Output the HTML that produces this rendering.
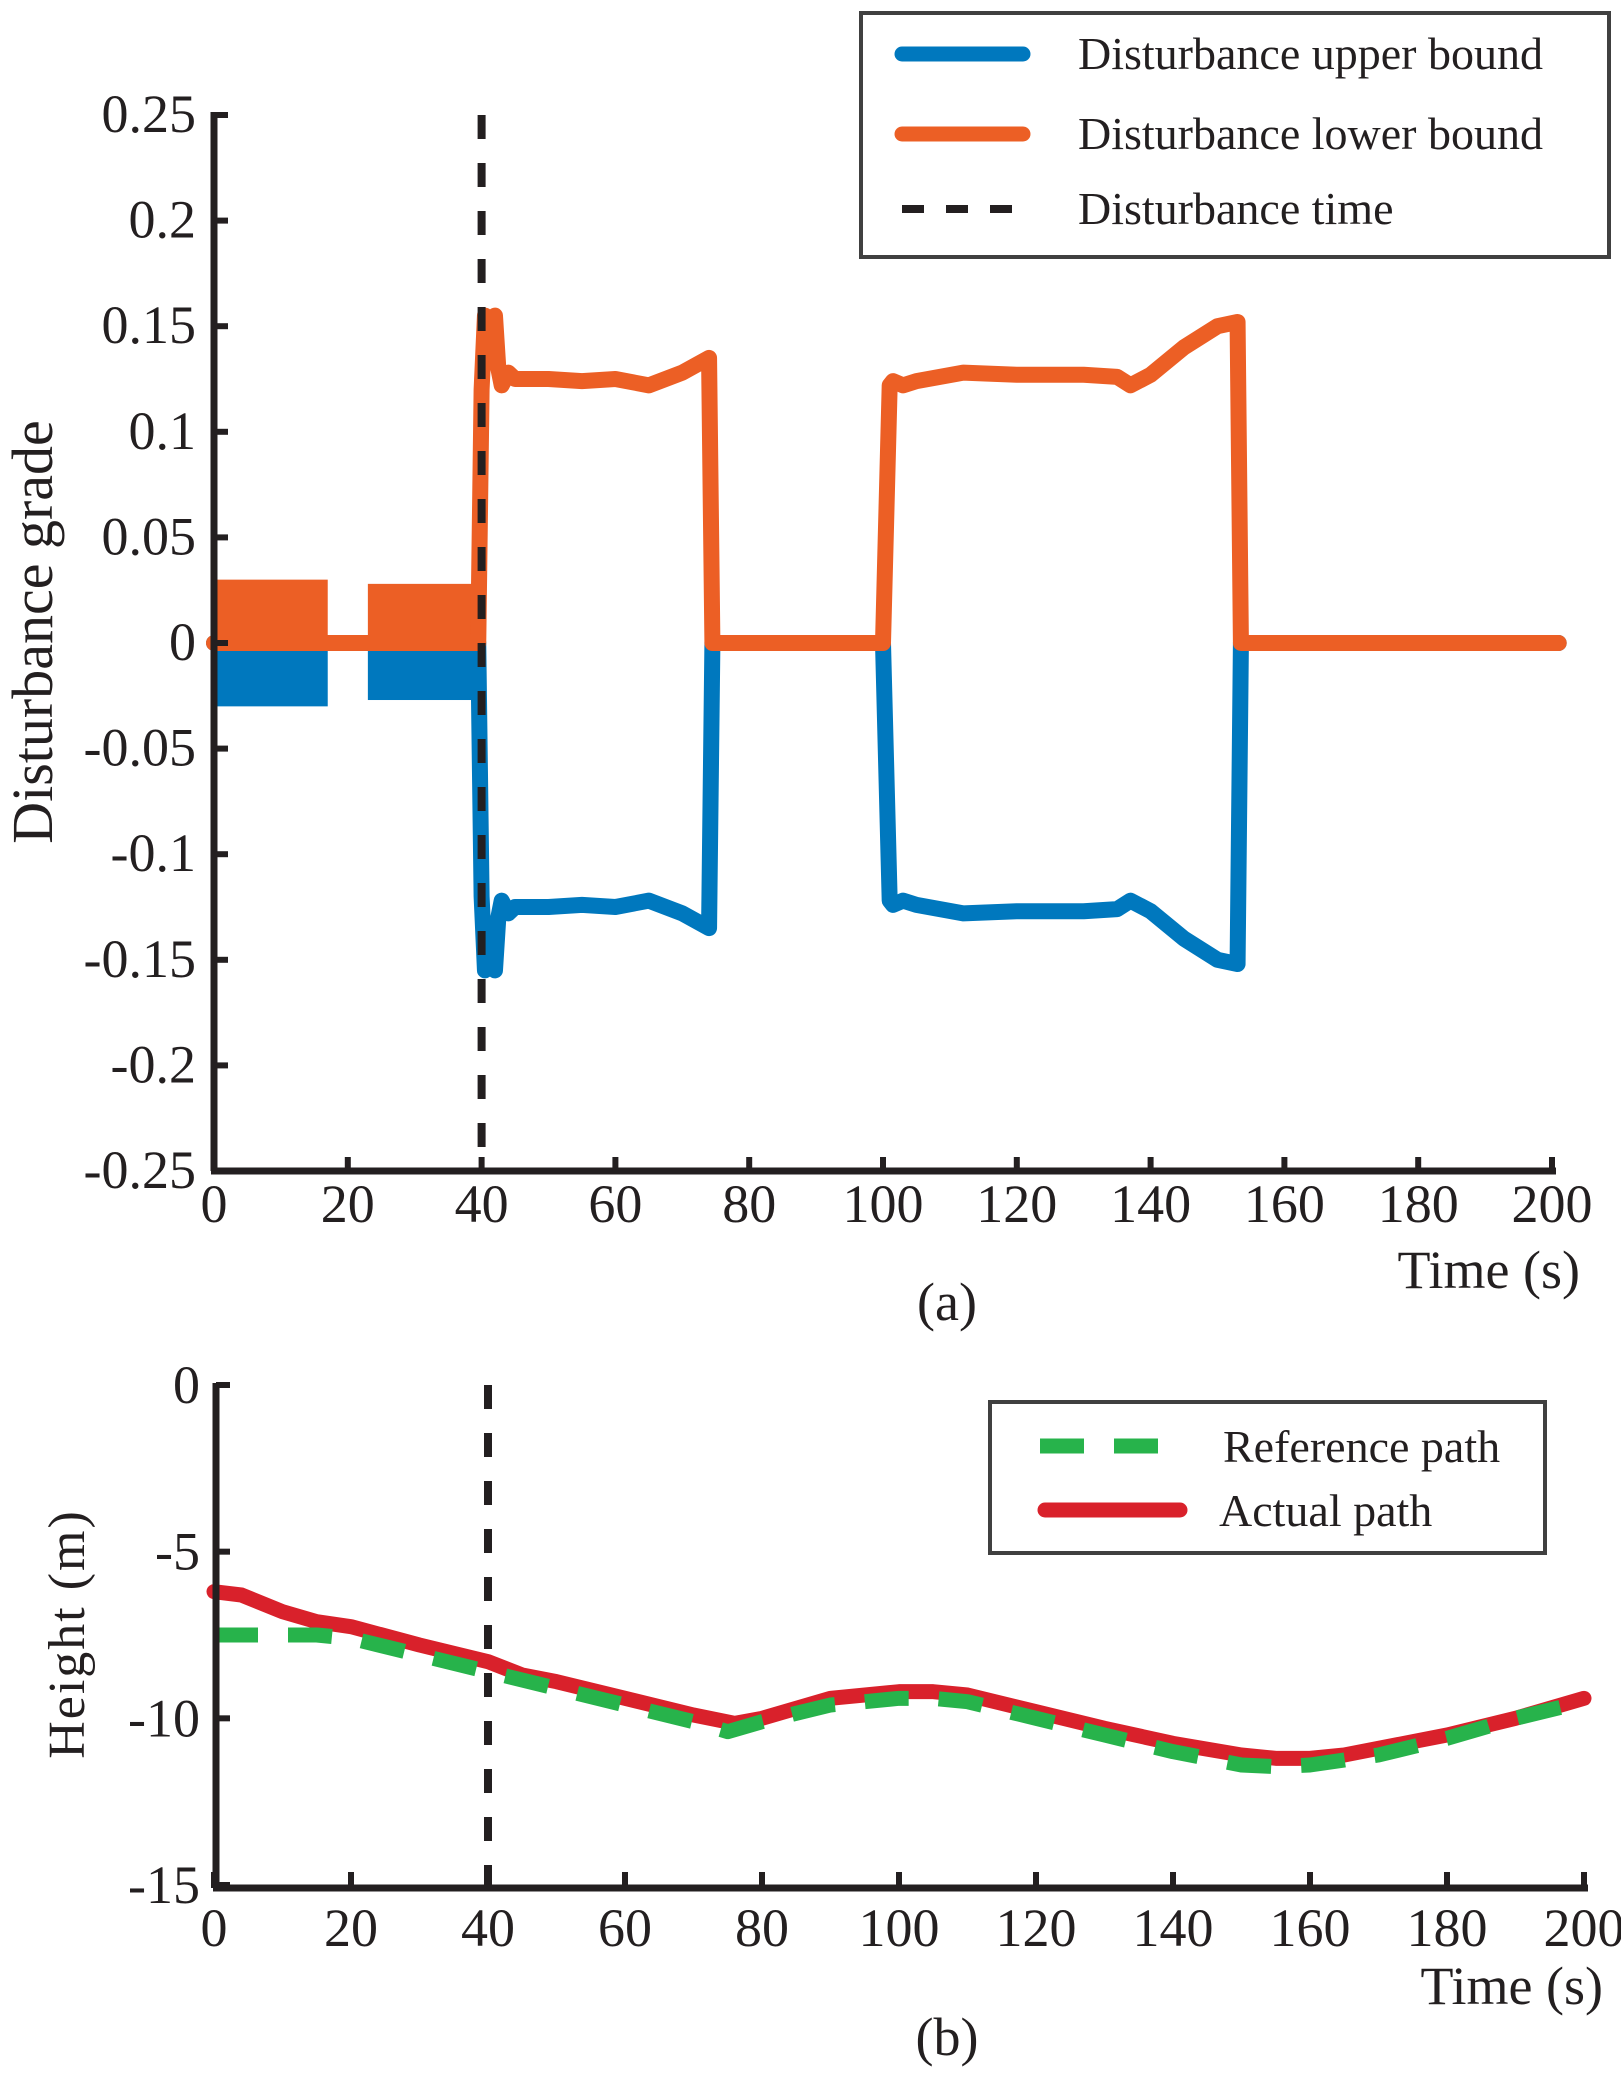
<!DOCTYPE html>
<html><head><meta charset="utf-8"><style>
html,body{margin:0;padding:0;background:#fff;}
svg{display:block;font-family:"Liberation Serif",serif;}
</style></head><body>
<svg id="chart" width="1621" height="2073" viewBox="0 0 1621 2073" xmlns="http://www.w3.org/2000/svg">
<g id="pa"></g>
<g id="pb"></g>
</svg>
<script>
// ---- Panel (a) data ----
const aTime = [0,0.5,17,17.5,23,23.5,39.5,40,40.5,41,41.5,42,42.5,43,44,45,50,55,60,65,70,74,74.5,100,101,101.5,103,105,112,120,130,135,137,140,145,150,153,153.5,201];
const aLower = [0,0,0,0,0,0,0,0.12,0.155,0.152,0.14,0.155,0.13,0.122,0.128,0.125,0.125,0.124,0.125,0.122,0.128,0.135,0,0,0.122,0.124,0.122,0.124,0.128,0.127,0.127,0.126,0.122,0.127,0.140,0.150,0.152,0,0];
const aUpper = [0,0,0,0,0,0,0,-0.12,-0.155,-0.15,-0.14,-0.155,-0.13,-0.122,-0.128,-0.125,-0.125,-0.124,-0.125,-0.122,-0.128,-0.135,0,0,-0.122,-0.124,-0.122,-0.124,-0.128,-0.127,-0.127,-0.126,-0.122,-0.127,-0.140,-0.150,-0.152,0,0];
const bandStart = [0.5,23];
const bandEnd = [17,39.8];
const bandTop = [0.030,0.028];
const bandBottom = [-0.030,-0.027];
const aYTicks = [0.25,0.2,0.15,0.1,0.05,0,-0.05,-0.1,-0.15,-0.2,-0.25];
const aYLabels = ["0.25","0.2","0.15","0.1","0.05","0","-0.05","-0.1","-0.15","-0.2","-0.25"];
const xTicks = [0,20,40,60,80,100,120,140,160,180,200];
const disturbT = 40;
// ---- Panel (b) data ----
const bRefT = [0,15,20,30,40,50,60,70,75,80,90,100,105,110,120,130,140,150,155,160,170,180,190,200];
const bRefV = [-7.5,-7.5,-7.6,-8.1,-8.6,-9.1,-9.6,-10.1,-10.4,-10.1,-9.6,-9.4,-9.4,-9.5,-10.0,-10.5,-11.0,-11.4,-11.45,-11.4,-11.1,-10.6,-10.0,-9.5];
const bActT = [0,4,10,15,20,30,40,45,50,60,70,76,80,90,100,105,110,120,130,140,150,155,160,165,180,190,200];
const bActV = [-6.2,-6.3,-6.8,-7.1,-7.25,-7.8,-8.3,-8.7,-8.9,-9.4,-9.9,-10.15,-10.0,-9.4,-9.2,-9.2,-9.3,-9.8,-10.3,-10.75,-11.1,-11.2,-11.2,-11.1,-10.5,-10.0,-9.4];
const bYTicks = [0,-5,-10,-15];
const bYLabels = ["0","-5","-10","-15"];

const NS="http://www.w3.org/2000/svg";
function mk(parent,tag,attrs,text){const e=document.createElementNS(NS,tag);for(const k in attrs)e.setAttribute(k,attrs[k]);if(text!==undefined)e.textContent=text;parent.appendChild(e);return e;}

const ax=t=>214+(t/200)*(1552-214);
const ay=v=>115+(0.25-v)/0.5*(1171-115);
const pa=document.getElementById('pa');
for(let i=0;i<bandStart.length;i++){
  const r=mk(pa,'rect',{x:ax(bandStart[i]),y:ay(0),width:ax(bandEnd[i])-ax(bandStart[i]),height:ay(bandBottom[i])-ay(0),fill:'#0078be'});
  
  
  const r2=mk(pa,'rect',{x:ax(bandStart[i]),y:ay(bandTop[i]),width:ax(bandEnd[i])-ax(bandStart[i]),height:ay(0)-ay(bandTop[i]),fill:'#ec5f25'});
  
  
}
let dU=aTime.map((t,i)=>(i?'L':'M')+ax(t)+','+ay(aUpper[i])).join(' ');
const lu=mk(pa,'path',{d:dU,fill:'none',stroke:'#0078be','stroke-width':16,'stroke-linejoin':'round','stroke-linecap':'round'});


let dL=aTime.map((t,i)=>(i?'L':'M')+ax(t)+','+ay(aLower[i])).join(' ');
const ll=mk(pa,'path',{d:dL,fill:'none',stroke:'#ec5f25','stroke-width':16,'stroke-linejoin':'round','stroke-linecap':'round'});


const dv=mk(pa,'line',{x1:ax(disturbT),x2:ax(disturbT),y1:ay(0.25),y2:ay(-0.25),stroke:'#231f20','stroke-width':8,'stroke-dasharray':'24 24'});


mk(pa,'line',{x1:214,y1:112,x2:214,y2:1171,stroke:'#231f20','stroke-width':7});
mk(pa,'line',{x1:211,y1:1171,x2:1556,y2:1171,stroke:'#231f20','stroke-width':7});
aYTicks.forEach((v,i)=>{
  mk(pa,'line',{x1:214,x2:228,y1:ay(v),y2:ay(v),stroke:'#231f20','stroke-width':6});
  const t=mk(pa,'text',{x:196,y:ay(v)+17,'text-anchor':'end','font-size':54,fill:'#231f20'},aYLabels[i]);
  
  
});
xTicks.forEach(v=>{
  mk(pa,'line',{x1:ax(v),x2:ax(v),y1:1171,y2:1157,stroke:'#231f20','stroke-width':6});
  const t=mk(pa,'text',{x:ax(v),y:1222,'text-anchor':'middle','font-size':54,fill:'#231f20'},String(v));
  
  
});

const bx=t=>214+(t/200)*(1584-214);
const by=v=>1385+(0-v)/15*(1885-1385);
const pb=document.getElementById('pb');
const dvb=mk(pb,'line',{x1:bx(disturbT),x2:bx(disturbT),y1:by(0),y2:by(-15),stroke:'#231f20','stroke-width':8,'stroke-dasharray':'24 24'});


const act=mk(pb,'path',{d:bActT.map((t,i)=>(i?'L':'M')+bx(t)+','+by(bActV[i])).join(' '),fill:'none',stroke:'#d9212b','stroke-width':15,'stroke-linejoin':'round','stroke-linecap':'round'});


const ref=mk(pb,'path',{d:bRefT.map((t,i)=>(i?'L':'M')+bx(t)+','+by(bRefV[i])).join(' '),fill:'none',stroke:'#27b34b','stroke-width':15,'stroke-dasharray':'44 30','stroke-linecap':'butt','stroke-linejoin':'round'});


mk(pb,'line',{x1:216,y1:1383,x2:216,y2:1888,stroke:'#231f20','stroke-width':7});
mk(pb,'line',{x1:213,y1:1888,x2:1588,y2:1888,stroke:'#231f20','stroke-width':7});
bYTicks.forEach((v,i)=>{
  mk(pb,'line',{x1:216,x2:230,y1:by(v),y2:by(v),stroke:'#231f20','stroke-width':6});
  const t=mk(pb,'text',{x:200,y:by(v)+18,'text-anchor':'end','font-size':54,fill:'#231f20'},bYLabels[i]);
  
  
});
xTicks.forEach(v=>{
  mk(pb,'line',{x1:bx(v),x2:bx(v),y1:1888,y2:1872,stroke:'#231f20','stroke-width':6});
  const t=mk(pb,'text',{x:bx(v),y:1946,'text-anchor':'middle','font-size':54,fill:'#231f20'},String(v));
  
  
});
</script>
<svg style="position:absolute;left:0;top:0" width="1621" height="2073" xmlns="http://www.w3.org/2000/svg">
<g font-family="Liberation Serif, serif" fill="#231f20">
<text transform="translate(52,632) rotate(-90)" text-anchor="middle" font-size="58">Disturbance grade</text>
<text x="1580" y="1288" text-anchor="end" font-size="54">Time (s)</text>
<text x="947" y="1320" text-anchor="middle" font-size="54">(a)</text>
<text transform="translate(84,1634) rotate(-90)" text-anchor="middle" font-size="52" letter-spacing="2">Height (m)</text>
<text x="1603" y="2004" text-anchor="end" font-size="54">Time (s)</text>
<text x="947" y="2055" text-anchor="middle" font-size="54">(b)</text>
</g>
<g>
<rect x="861" y="13" width="748" height="244" fill="#fff" stroke="#404040" stroke-width="4"/>
<line x1="902" y1="54" x2="1023" y2="54" stroke="#0078be" stroke-width="15" stroke-linecap="round"/>
<text x="1078" y="69" font-size="46" font-family="Liberation Serif, serif" fill="#231f20">Disturbance upper bound</text>
<line x1="902" y1="134" x2="1023" y2="134" stroke="#ec5f25" stroke-width="15" stroke-linecap="round"/>
<text x="1078" y="149" font-size="46" font-family="Liberation Serif, serif" fill="#231f20">Disturbance lower bound</text>
<line x1="902" y1="209" x2="1030" y2="209" stroke="#231f20" stroke-width="8" stroke-dasharray="22 22"/>
<text x="1078" y="224" font-size="46" font-family="Liberation Serif, serif" fill="#231f20">Disturbance time</text>
</g>
<g>
<rect x="990" y="1402" width="555" height="151" fill="#fff" stroke="#404040" stroke-width="4"/>
<line x1="1040" y1="1446" x2="1185" y2="1446" stroke="#27b34b" stroke-width="15" stroke-dasharray="44 30"/>
<text x="1223" y="1462" font-size="46" font-family="Liberation Serif, serif" fill="#231f20">Reference path</text>
<line x1="1045" y1="1510" x2="1180" y2="1510" stroke="#d9212b" stroke-width="15" stroke-linecap="round"/>
<text x="1219" y="1526" font-size="46" font-family="Liberation Serif, serif" fill="#231f20">Actual path</text>
</g>
</svg>
</body></html>
